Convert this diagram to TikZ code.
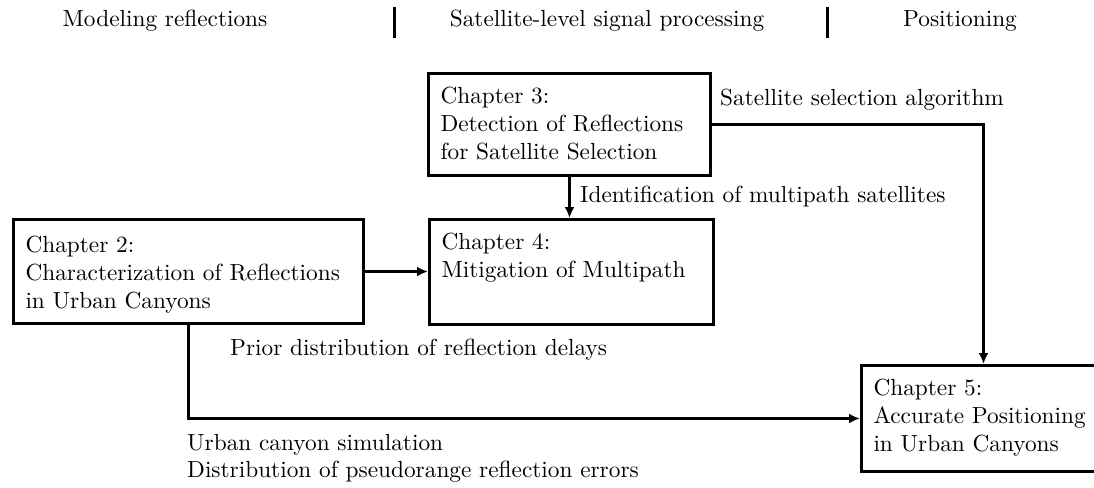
\documentclass[tikz,border=0pt]{standalone}
\usepackage{fontspec,tikz}
\setmainfont{lmroman10-regular.otf}
\usetikzlibrary{arrows.meta}
\newcommand{\boxtext}[3]{\parbox[t][#2][t]{#1}{\raggedright #3}}

\begin{document}
\begin{tikzpicture}[x=1pt,y=-1pt,font=\fontsize{23.3}{28}\selectfont,
  chapbox/.style={draw,line width=3pt,anchor=north west,inner xsep=12pt,inner ysep=14pt},
  lbl/.style={anchor=base west,inner sep=0pt},
  head/.style={anchor=base,inner sep=0pt},
  flow/.style={line width=3pt,-{Latex[length=11pt,width=10pt]}}]
\path[use as bounding box] (0,0) rectangle (1094,487);
\node[head] (h1) at (165,27) {Modeling reflections};
\node[head] (h2) at (607,27) {Satellite-level signal processing};
\node[head] (h3) at (960,27) {Positioning};
\draw[line width=3pt] (394,7) -- (394,38);
\draw[line width=3pt] (827,7) -- (827,38);
\node[chapbox] (ch3) at (427,72) {\boxtext{258pt}{74pt}{Chapter 3:\\Detection of Reflections\\for Satellite Selection}};
\node[chapbox,inner ysep=17pt] (ch2) at (12,218) {\boxtext{326pt}{70pt}{Chapter 2:\\Characterization of Reflections\\in Urban Canyons}};
\node[chapbox] (ch4) at (428,218) {\boxtext{260pt}{77pt}{Chapter 4:\\Mitigation of Multipath}};
\node[chapbox] (ch5) at (860,364) {\boxtext{220pt}{78pt}{Chapter 5:\\Accurate Positioning\\in Urban Canyons}};
\draw[flow] (ch3.south) -- (ch3.south |- ch4.north);
\draw[flow] (ch2.east) -- (ch2.east -| ch4.west);
\draw[flow] (ch3.east) -| (ch5.north);
\draw[flow] (ch2.south) |- (ch5.west);
\node[lbl] (selalg) at (720,105) {Satellite selection algorithm};
\node[lbl] (ident) at (580,202) {Identification of multipath satellites};
\node[lbl] (prior) at (230,355) {Prior distribution of reflection delays};
\node[lbl] (sim) at (187,450) {Urban canyon simulation};
\node[lbl] (errs) at (187,477) {Distribution of pseudorange reflection errors};
\end{tikzpicture}
\end{document}
